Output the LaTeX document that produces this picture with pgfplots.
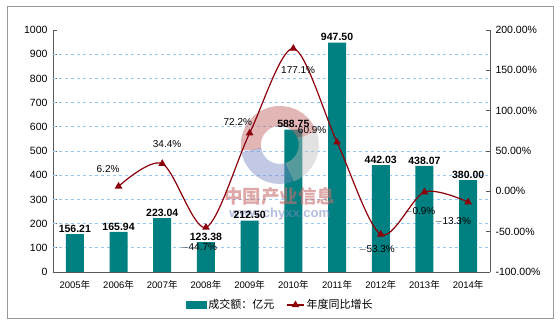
\documentclass[border=0pt]{standalone}
\usepackage{pgfplots}
\pgfplotsset{compat=1.18}
\usepackage{fontspec}
\setmainfont{Liberation Sans}
\newfontfamily\cjk{Noto Sans CJK SC}
\definecolor{barc}{RGB}{0,128,128}
\definecolor{linec}{RGB}{140,0,10}
\definecolor{gridc}{RGB}{150,200,250}
\definecolor{axc}{RGB}{90,90,90}
\definecolor{wmred}{RGB}{200,110,110}
\definecolor{wmblue}{RGB}{120,135,195}
\definecolor{wmgray}{RGB}{190,190,190}
\begin{document}
\begin{tikzpicture}
\begin{axis}[
  scale only axis, width=437pt, height=242pt,
  xmin=-0.5, xmax=9.5, ymin=0, ymax=1000,
  axis y line*=left, axis x line*=bottom,
  axis line style={axc, line width=0.9pt},
  ytick={0,100,...,1000},
  extra y ticks={100,200,...,900},
  extra y tick labels={},
  extra y tick style={grid=major, major tick length=0pt},
  grid style={dashed, gridc, line width=0.6pt},
  xtick={0,...,9},
  xticklabels={2005{\cjk 年},2006{\cjk 年},2007{\cjk 年},2008{\cjk 年},2009{\cjk 年},2010{\cjk 年},2011{\cjk 年},2012{\cjk 年},2013{\cjk 年},2014{\cjk 年}},
  x tick style={draw=none},
  minor xtick={0.5,1.5,...,8.5},
  minor x tick style={axc, line width=0.8pt},
  minor tick length=4pt,
  y tick style={axc, line width=0.8pt},
  major tick length=4pt,
  tick align=inside,
  /pgf/number format/1000 sep={},
  /pgf/number format/assume math mode=true,
  yticklabel style={font=\fontsize{10.5}{11}\selectfont, xshift=-2pt},
  xticklabel style={font=\fontsize{9.5}{10}\selectfont, yshift=-1pt},
  ybar, bar width=18pt,
  point meta=explicit symbolic,
  nodes near coords,
  nodes near coords style={font=\bfseries\fontsize{10.5}{11}\selectfont, black, inner sep=1.5pt},
]
\addplot[fill=barc, draw=none] coordinates {
(0,156.21) [156.21]
(1,165.94) [165.94]
(2,223.04) [223.04]
(3,123.38) [123.38]
(4,212.50) [212.50]
(5,588.75) [588.75]
(6,947.50) [947.50]
(7,442.03) [442.03]
(8,438.07) [438.07]
(9,380.00) [380.00]
};
% watermark
\draw[line width=20pt, wmred, opacity=0.5] (axis cs:4.69,525) ++(20:29pt) arc (20:190:29pt);
\draw[line width=20pt, wmblue, opacity=0.45] (axis cs:4.69,525) ++(190:29pt) arc (190:290:29pt);
\draw[line width=20pt, wmgray, opacity=0.45] (axis cs:4.69,525) ++(290:29pt) arc (290:380:29pt);
\node[wmred, opacity=0.6, font=\cjk\bfseries\fontsize{18.5}{19}\selectfont] at (axis cs:4.69,314) {中国产业信息};
\node[wmblue, opacity=0.55, font=\bfseries\fontsize{13}{14}\selectfont] at (axis cs:4.69,240) {www.chyxx.com};
\end{axis}
\begin{axis}[
  scale only axis, width=437pt, height=242pt,
  xmin=-0.5, xmax=9.5, ymin=-100, ymax=200,
  axis y line*=right, axis x line=none,
  axis line style={axc, line width=0.9pt},
  ytick={-100,-50,...,200},
  y tick style={axc, line width=0.8pt},
  major tick length=4pt,
  tick align=inside,
  yticklabel={\pgfmathprintnumber[fixed,fixed zerofill,precision=2]{\tick}\%},
  /pgf/number format/assume math mode=true,
  yticklabel style={font=\fontsize{10.5}{11}\selectfont, xshift=2pt},
  legend style={at={(axis description cs:0.52,-0.136)}, anchor=center, draw=none, fill=none,
    font=\cjk\fontsize{11}{12}\selectfont, legend columns=2,
    /tikz/every even column/.append style={column sep=10pt}},
  legend cell align=left,
]
\addlegendimage{legend image code/.code={\fill[barc] (0pt,-3.5pt) rectangle (20pt,3.5pt);}}
\addlegendentry{成交额：亿元}
\addplot[smooth, linec, line width=1.2pt, mark=triangle*, mark size=3.2pt, mark options={solid, fill=linec}] coordinates {
(1,6.2) (2,34.4) (3,-44.7) (4,72.2) (5,177.1) (6,60.9) (7,-53.3) (8,-0.9) (9,-13.3)
};
\addlegendentry{年度同比增长}
\begin{scope}[font=\fontsize{10}{11}\selectfont]
\node at (axis cs:0.76,27.7) {6.2\%};
\node at (axis cs:2.11,58.7) {34.4\%};
\node at (axis cs:2.84,-70.1) {$-$44.7\%};
\node at (axis cs:3.73,86) {72.2\%};
\node at (axis cs:5.11,150.4) {177.1\%};
\node at (axis cs:5.43,76) {60.9\%};
\node at (axis cs:6.91,-71.4) {$-$53.3\%};
\node at (axis cs:7.9,-25.5) {$-$0.9\%};
\node at (axis cs:8.65,-37.9) {$-$13.3\%};
\end{scope}
\end{axis}
\draw[gray!80, line width=0.8pt] (-46pt,-46pt) rectangle (500pt,266pt);
\path[use as bounding box] (-53pt,-52pt) rectangle (507pt,272pt);
\end{tikzpicture}
\end{document}
